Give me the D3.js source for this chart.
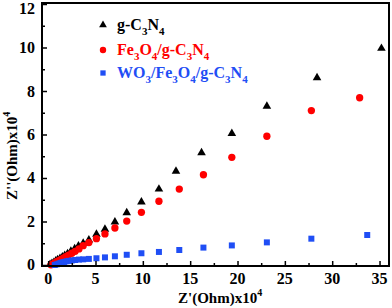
<!DOCTYPE html>
<html>
<head>
<meta charset="utf-8">
<script src="https://cdn.jsdelivr.net/npm/d3@7"></script>
<style>
  body { margin: 0; background: #fff; }
  text { font-family: "Liberation Serif", "Times New Roman", serif; font-weight: bold; }
</style>
</head>
<body>
<svg id="chart" width="392" height="308"></svg>
<script>
// Z' values (x10^4 Ohm) and Z'' values (x10^4 Ohm)
var gcnX = [0.2, 0.4, 0.6, 0.8, 1.0, 1.25, 1.5, 1.75, 2.05, 2.4, 2.8, 3.2, 3.7, 4.3, 5.1, 6.0, 7.05, 8.3, 9.85, 11.7, 13.5, 16.2, 19.4, 23.1, 28.4, 35.2];
var gcnY = [0.02, 0.07, 0.12, 0.18, 0.24, 0.3, 0.37, 0.44, 0.52, 0.63, 0.75, 0.87, 1.0, 1.15, 1.41, 1.64, 1.98, 2.4, 2.9, 3.49, 4.31, 5.16, 6.05, 7.3, 8.61, 9.96];

var feX = [0.3, 0.5, 0.7, 0.9, 1.1, 1.35, 1.6, 1.85, 2.15, 2.5, 2.85, 3.25, 3.7, 4.3, 5.1, 6.0, 7.05, 8.3, 9.85, 11.7, 13.85, 16.4, 19.4, 23.1, 27.8, 32.9];
var feY = [0.01, 0.05, 0.1, 0.15, 0.2, 0.26, 0.32, 0.38, 0.45, 0.54, 0.63, 0.74, 0.89, 1.03, 1.21, 1.43, 1.7, 2.02, 2.42, 2.93, 3.49, 4.15, 4.95, 5.92, 7.1, 7.69];

var woX = [0.7, 0.9, 1.1, 1.3, 1.5, 1.7, 1.95, 2.2, 2.5, 2.85, 3.25, 3.7, 4.3, 5.1, 6.0, 7.05, 8.3, 9.85, 11.7, 13.85, 16.4, 19.4, 23.1, 27.8, 33.7];
var woY = [0.0, 0.03, 0.06, 0.09, 0.12, 0.14, 0.17, 0.19, 0.21, 0.23, 0.25, 0.26, 0.28, 0.31, 0.35, 0.4, 0.47, 0.54, 0.6, 0.69, 0.8, 0.9, 1.04, 1.21, 1.38];

var xTicks = [0, 5, 10, 15, 20, 25, 30, 35];
var yTicks = [0, 2, 4, 6, 8, 10, 12];

var svg = d3.select('#chart');
var plotLeft = 42, plotRight = 389, plotTop = 3, plotBottom = 266;

var x = d3.scaleLinear().domain([-0.65, 36.0]).range([plotLeft, plotRight]);
var y = d3.scaleLinear().domain([-0.046, 12.046]).range([plotBottom, plotTop]);

function zip(xs, ys) {
  return xs.map(function (v, i) { return [v, ys[i]]; });
}

var series = [
  { name: 'gcn', pts: zip(gcnX, gcnY), symbol: d3.symbolTriangle, size: 32, color: '#000000' },
  { name: 'fe', pts: zip(feX, feY), symbol: d3.symbolCircle, size: 42, color: '#ff0000' },
  { name: 'wo', pts: zip(woX, woY), symbol: d3.symbolSquare, size: 36, color: '#1f4ef5' }
];

series.forEach(function (s) {
  svg.append('g').selectAll('path').data(s.pts).enter().append('path')
    .attr('d', d3.symbol().type(s.symbol).size(s.size))
    .attr('fill', s.color)
    .attr('transform', function (d) { return 'translate(' + x(d[0]) + ',' + y(d[1]) + ')'; });
});

// axes with inward ticks
var xAxis = svg.append('g').attr('transform', 'translate(0,' + plotBottom + ')')
  .call(d3.axisBottom(x).tickValues(d3.range(0, 36, 2.5)).tickSize(-3).tickFormat(''));
xAxis.selectAll('.tick line').attr('stroke-width', 1.5)
  .attr('y2', function (d) { return d % 5 === 0 ? -5 : -3; });
xAxis.select('.domain').remove();

var yAxis = svg.append('g').attr('transform', 'translate(' + plotLeft + ',0)')
  .call(d3.axisLeft(y).tickValues(d3.range(0, 13, 1)).tickSize(-3).tickFormat(''));
yAxis.selectAll('.tick line').attr('stroke-width', 1.5)
  .attr('x2', function (d) { return d % 2 === 0 ? 5 : 3; });
yAxis.select('.domain').remove();

svg.append('rect')
  .attr('x', plotLeft).attr('y', plotTop)
  .attr('width', plotRight - plotLeft).attr('height', plotBottom - plotTop)
  .attr('fill', 'none').attr('stroke', '#000').attr('stroke-width', 2);

svg.append('g').selectAll('text').data(xTicks).enter().append('text')
  .attr('x', function (d) { return x(d); })
  .attr('y', 284)
  .attr('text-anchor', 'middle')
  .attr('font-size', 16)
  .text(function (d) { return d; });

svg.append('g').selectAll('text').data(yTicks).enter().append('text')
  .attr('x', 35)
  .attr('y', function (d) { return Math.max(y(d) + 5.5, 14); })
  .attr('text-anchor', 'end')
  .attr('font-size', 16)
  .text(function (d) { return d; });

// axis titles
var xt = svg.append('text').attr('x', 178).attr('y', 303).attr('font-size', 15);
xt.append('tspan').text("Z'(Ohm)x10");
xt.append('tspan').attr('dy', -7).attr('font-size', 10).text('4');

var yt = svg.append('text').attr('transform', 'translate(17,200) rotate(-90)').attr('font-size', 15);
yt.append('tspan').text("Z''(Ohm)x10");
yt.append('tspan').attr('dy', -7).attr('font-size', 10).text('4');

// legend; digits in formulas are subscripts
function chem(sel, formula) {
  var lowered = false;
  formula.match(/\d+|\D+/g).forEach(function (p) {
    var isSub = /\d/.test(p);
    var ts = sel.append('tspan').text(p);
    if (isSub) ts.attr('font-size', 11);
    if (isSub && !lowered) { ts.attr('dy', 5); lowered = true; }
    else if (!isSub && lowered) { ts.attr('dy', -5); lowered = false; }
  });
}

var legend = [
  { symbol: d3.symbolTriangle, size: 26, color: '#000000', cy: 25, label: 'g-C3N4' },
  { symbol: d3.symbolCircle, size: 32, color: '#ff0000', cy: 50, label: 'Fe3O4/g-C3N4' },
  { symbol: d3.symbolSquare, size: 28, color: '#1f4ef5', cy: 73, label: 'WO3/Fe3O4/g-C3N4' }
];

legend.forEach(function (l) {
  svg.append('path')
    .attr('d', d3.symbol().type(l.symbol).size(l.size))
    .attr('fill', l.color)
    .attr('transform', 'translate(103,' + l.cy + ')');
  var t = svg.append('text').attr('x', 117).attr('y', l.cy + 5).attr('font-size', 16).attr('fill', l.color);
  chem(t, l.label);
});
</script>
</body>
</html>
